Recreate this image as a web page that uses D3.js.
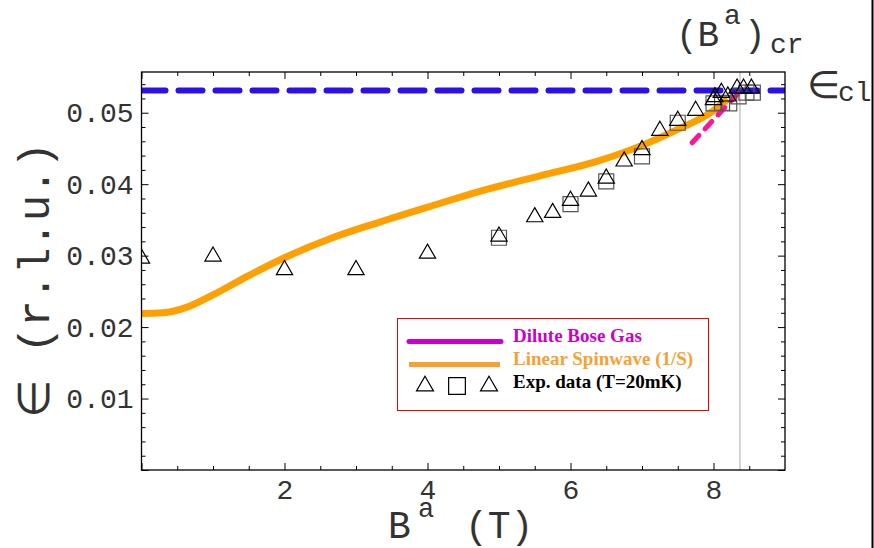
<!DOCTYPE html>
<html>
<head>
<meta charset="utf-8">
<script src="https://cdn.jsdelivr.net/npm/d3@7"></script>
<style>
  body { margin: 0; background: #fff; }
  svg { display: block; }
</style>
</head>
<body>
<div id="chart"></div>
<script>
'use strict';

// field (T) and gap values
const fieldTicks = [2, 4, 6, 8];
const epsTicks = [0.01, 0.02, 0.03, 0.04, 0.05];

const spinwaveB   = [0, 0.3, 0.64, 1.0, 1.5, 2.0, 2.67, 3.33, 4.17, 4.73, 5.67, 6.37, 7.02, 7.53, 7.96, 8.2];
const spinwaveEps = [0.0219, 0.0220, 0.0228, 0.0245, 0.0272, 0.0297, 0.0325, 0.0347, 0.0373, 0.0390, 0.0414, 0.0432, 0.0455, 0.0478, 0.0500, 0.0519];

const boseB   = [7.70, 8.37];
const boseEps = [0.0458, 0.0530];

const epsCl = 0.0531;
const bCr = 8.37;

const triB   = [0, 1, 2, 3, 4, 5, 5.5, 5.75, 6, 6.25, 6.5, 6.75, 7, 7.25, 7.5, 7.75, 8.0];
const triEps = [0.0296, 0.0299, 0.0280, 0.0280, 0.0303, 0.0327, 0.0354, 0.0360, 0.0377, 0.0390, 0.0408, 0.0432, 0.0448, 0.0475, 0.0489, 0.0503, 0.0518];

const sqB   = [5, 6, 6.5, 7, 7.5, 8.0, 8.12, 8.22, 8.35, 8.46, 8.55];
const sqEps = [0.0325, 0.0372, 0.0404, 0.0439, 0.0486, 0.0513, 0.0514, 0.0513, 0.0523, 0.0528, 0.0528];

const tri2B   = [8.02, 8.11, 8.2, 8.33, 8.42, 8.53];
const tri2Eps = [0.0522, 0.0528, 0.0523, 0.0534, 0.0534, 0.0534];

const W = 874, H = 548;
const plotL = 141.5, plotR = 785, plotT = 72, plotB = 470;

let svg = d3.select('#chart').append('svg')
    .attr('width', W)
    .attr('height', H);

let x = d3.scaleLinear().domain([0, 9]).range([plotL, plotR]);
let y = d3.scaleLinear().domain([0, 0.0557]).range([plotB, plotT]);

svg.append('clipPath').attr('id', 'plotClip')
  .append('rect')
    .attr('x', plotL).attr('y', plotT)
    .attr('width', plotR - plotL).attr('height', plotB - plotT);

// ticks, inward on every side
let minorX = d3.range(0.5, 9, 0.5).filter(v => v % 2 !== 0);
let minorY = d3.range(0.002, 0.0557, 0.002).filter(v => Math.abs(v * 100 - Math.round(v * 100)) > 1e-6);
let majorX = [0, 2, 4, 6, 8];
let majorY = [0, 0.01, 0.02, 0.03, 0.04, 0.05];

function tickAxis(axis, vals, size, labels, pad) {
  return axis.tickValues(vals)
    .tickSizeInner(-size)
    .tickSizeOuter(0)
    .tickPadding(pad)
    .tickFormat(labels);
}

let ax = svg.append('g').attr('class', 'axes');

ax.append('g').attr('transform', `translate(0,${plotB})`)
  .call(tickAxis(d3.axisBottom(x), minorX, 4, () => '', 0));
ax.append('g').attr('transform', `translate(0,${plotB})`)
  .call(tickAxis(d3.axisBottom(x), majorX, 7, d => fieldTicks.includes(d) ? d : '', 9));
ax.append('g').attr('transform', `translate(0,${plotT})`)
  .call(tickAxis(d3.axisTop(x), minorX, 4, () => '', 0));
ax.append('g').attr('transform', `translate(0,${plotT})`)
  .call(tickAxis(d3.axisTop(x), majorX, 7, () => '', 0));

ax.append('g').attr('transform', `translate(${plotL},0)`)
  .call(tickAxis(d3.axisLeft(y), minorY, 4, () => '', 0));
ax.append('g').attr('transform', `translate(${plotL},0)`)
  .call(tickAxis(d3.axisLeft(y), majorY, 7, d => epsTicks.includes(d) ? d3.format('.2f')(d) : '', 8));
ax.append('g').attr('transform', `translate(${plotR},0)`)
  .call(tickAxis(d3.axisRight(y), minorY, 4, () => '', 0));
ax.append('g').attr('transform', `translate(${plotR},0)`)
  .call(tickAxis(d3.axisRight(y), majorY, 7, () => '', 0));

ax.selectAll('.domain').remove();
ax.selectAll('.tick line').attr('stroke', '#000').attr('stroke-width', 1);
ax.selectAll('.tick text')
    .attr('font-family', '"Liberation Mono", "Courier New", monospace')
    .attr('font-size', 28)
    .attr('fill', '#333');

// critical field marker
svg.append('line')
    .attr('x1', x(bCr)).attr('x2', x(bCr))
    .attr('y1', plotT).attr('y2', plotB)
    .attr('stroke', '#aaa').attr('stroke-width', 1);

let plot = svg.append('g').attr('clip-path', 'url(#plotClip)');

// classical gap
plot.append('line')
    .attr('x1', x(0)).attr('x2', x(9))
    .attr('y1', y(epsCl)).attr('y2', y(epsCl))
    .attr('stroke', '#2a10f0')
    .attr('stroke-width', 6)
    .attr('stroke-linecap', 'round')
    .attr('stroke-dasharray', '24,13');

let line = d3.line()
    .x(d => x(d[0]))
    .y(d => y(d[1]));

plot.append('path')
    .datum(d3.zip(spinwaveB, spinwaveEps))
    .attr('d', line.curve(d3.curveMonotoneX))
    .attr('fill', 'none')
    .attr('stroke', '#ffa000')
    .attr('stroke-width', 7);

plot.append('path')
    .datum(d3.zip(boseB, boseEps))
    .attr('d', d3.line().x(d => x(d[0])).y(d => y(d[1])))
    .attr('fill', 'none')
    .attr('stroke', '#ff1493')
    .attr('stroke-width', 5)
    .attr('stroke-linecap', 'round')
    .attr('stroke-dasharray', '10,9');

let triSym = d3.symbol().type(d3.symbolTriangle).size(115);
let sqSym = d3.symbol().type(d3.symbolSquare).size(225);

function markers(bs, es, sym, color) {
  plot.append('g').selectAll('path')
    .data(d3.zip(bs, es)).enter().append('path')
      .attr('transform', d => `translate(${x(d[0])},${y(d[1])})`)
      .attr('d', sym)
      .attr('fill', 'none')
      .attr('stroke', color)
      .attr('stroke-width', 1.2);
}

markers(sqB, sqEps, sqSym, '#555');
markers(triB, triEps, triSym, '#000');
markers(tri2B, tri2Eps, triSym, '#000');

// frame
svg.append('rect')
    .attr('x', plotL).attr('y', plotT)
    .attr('width', plotR - plotL).attr('height', plotB - plotT)
    .attr('fill', 'none')
    .attr('stroke', '#000')
    .attr('stroke-width', 1.3);

// labels
const mono = '"Liberation Mono", "Courier New", monospace';

let xl = svg.append('text')
    .attr('y', 538)
    .attr('font-family', mono).attr('font-size', 38).attr('fill', '#333');
xl.append('tspan').attr('x', 388).text('B');
xl.append('tspan').attr('x', 418).attr('y', 517).attr('font-size', 27).text('a');
xl.append('tspan').attr('x', 465).attr('y', 538).text('(T)');

let yl = svg.append('text')
    .attr('transform', 'translate(49,418) rotate(-90)')
    .attr('font-family', mono).attr('font-size', 44).attr('fill', '#333');
yl.append('tspan').attr('font-family', '"DejaVu Sans"').text('\u2208');
yl.append('tspan').text(' (r.l.u.)');

let bl = svg.append('text')
    .attr('y', 46)
    .attr('font-family', mono).attr('font-size', 36).attr('fill', '#333');
bl.append('tspan').attr('x', 676).text('(B');
bl.append('tspan').attr('x', 724).attr('y', 24).attr('font-size', 28).text('a');
bl.append('tspan').attr('x', 744).attr('y', 46).text(')');
bl.append('tspan').attr('x', 770).attr('y', 53).attr('font-size', 28).text('cr');

let el = svg.append('text')
    .attr('y', 98)
    .attr('font-family', mono).attr('font-size', 38).attr('fill', '#333');
el.append('tspan').attr('x', 807).attr('font-family', '"DejaVu Sans"').text('\u2208');
el.append('tspan').attr('x', 838).attr('y', 101).attr('font-size', 28).text('cl');

svg.append('line')
    .attr('x1', 872.5).attr('x2', 872.5).attr('y1', 0).attr('y2', H)
    .attr('stroke', '#000').attr('stroke-width', 2);

// legend
let lg = svg.append('g');
lg.append('rect')
    .attr('x', 397.5).attr('y', 318.5).attr('width', 311).attr('height', 92)
    .attr('fill', '#fff').attr('stroke', '#e00').attr('stroke-width', 1);

const legendNames = ['Dilute Bose Gas', 'Linear Spinwave (1/S)', 'Exp. data (T=20mK)'];
const legendColors = ['#cc00cc', '#f8a030', '#000'];

lg.append('line').attr('x1', 409).attr('x2', 501).attr('y1', 341.5).attr('y2', 341.5)
    .attr('stroke', legendColors[0]).attr('stroke-width', 5).attr('stroke-linecap', 'round');
lg.append('line').attr('x1', 409).attr('x2', 500).attr('y1', 364.5).attr('y2', 364.5)
    .attr('stroke', legendColors[1]).attr('stroke-width', 5);

lg.selectAll('text.name').data(legendNames).enter().append('text')
    .attr('class', 'name')
    .attr('x', 513)
    .attr('y', (d, i) => 342 + i * 23)
    .attr('font-family', '"Liberation Serif", "Times New Roman", serif')
    .attr('font-weight', 'bold')
    .attr('font-size', 19)
    .attr('fill', (d, i) => legendColors[i])
    .text(d => d);

let legSyms = [d3.symbol().type(d3.symbolTriangle).size(125), d3.symbol().type(d3.symbolSquare).size(280), d3.symbol().type(d3.symbolTriangle).size(125)];
lg.selectAll('path.sym').data(legSyms).enter().append('path')
    .attr('class', 'sym')
    .attr('transform', (d, i) => `translate(${425 + i * 32},386)`)
    .attr('d', d => d())
    .attr('fill', 'none')
    .attr('stroke', '#000')
    .attr('stroke-width', 1.2);
</script>
</body>
</html>
